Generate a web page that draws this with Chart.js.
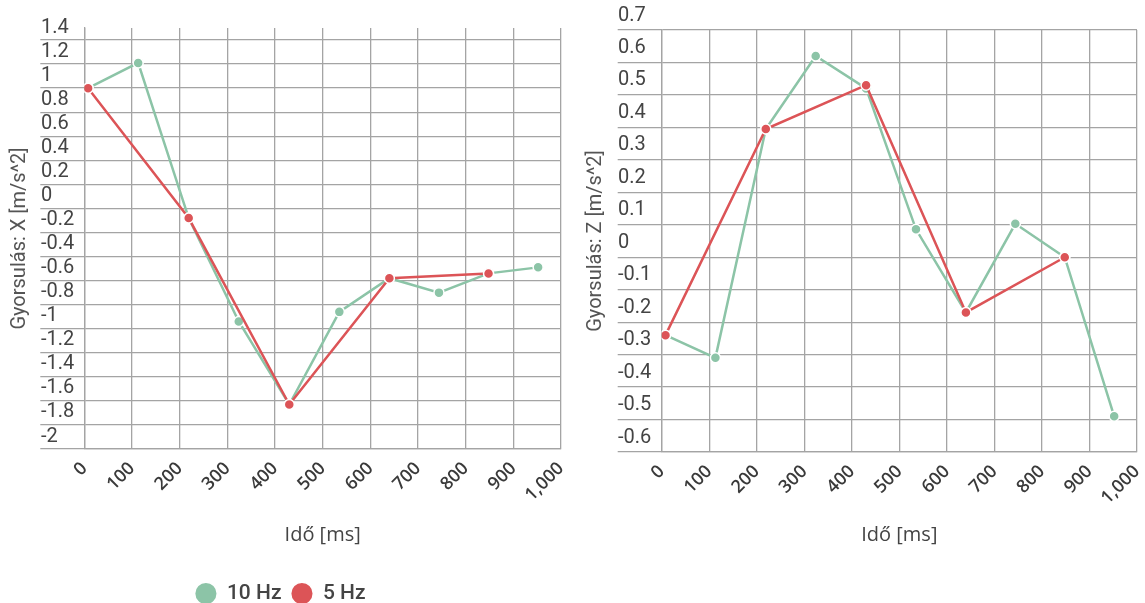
<!DOCTYPE html>
<html>
<head>
<meta charset="utf-8">
<title>Gyorsulás</title>
<script src="https://cdn.jsdelivr.net/npm/chart.js@4.4.1/dist/chart.umd.min.js"></script>
<style>
  html, body { margin: 0; padding: 0; background: #ffffff; }
  body { width: 1145px; height: 603px; position: relative; overflow: hidden; }
  canvas { position: absolute; top: 0; }
  #chartX { left: 0; width: 572px; height: 603px; }
  #chartZ { left: 577px; width: 568px; height: 603px; }
</style>
</head>
<body>
<canvas id="chartX" width="572" height="603"></canvas>
<canvas id="chartZ" width="568" height="603"></canvas>
<script>
// Sample times [ms]
const timeMs10 = [8, 113, 219, 324, 430, 535, 640, 744, 848, 952];
const timeMs5 = [8, 219, 430, 640, 848];

// Acceleration along X [m/s^2]
const accX10 = [1.0, 1.21, -0.08, -0.94, -1.63, -0.86, -0.58, -0.70, -0.54, -0.49];
const accX5 = [1.0, -0.08, -1.63, -0.58, -0.54];

// Acceleration along Z [m/s^2]
const accZ10 = [-0.24, -0.31, 0.395, 0.62, 0.52, 0.086, -0.17, 0.103, 0.0, -0.49];
const accZ5 = [-0.24, 0.395, 0.53, -0.17, 0.0];

const seriesLabels = ['10 Hz', '5 Hz'];
const timeAxisTitle = 'Idő [ms]';
const accXTitle = 'Gyorsulás: X [m/s^2]';
const accZTitle = 'Gyorsulás: Z [m/s^2]';

const GREEN = '#8cc4a7';
const RED = '#dc5457';
const GRID = '#a4a4a4';
const GRID_W = 1.3;

function points(xs, ys) {
  return xs.map((x, i) => ({ x: x, y: ys[i] }));
}

function lineDataset(label, xs, ys, color, order) {
  return {
    label: label,
    data: points(xs, ys),
    borderColor: color,
    backgroundColor: color,
    borderWidth: 2.5,
    pointRadius: 5,
    pointBorderWidth: 1.5,
    pointBorderColor: '#ffffff',
    pointBackgroundColor: color,
    tension: 0,
    order: order
  };
}

function buildChart(id, o) {
  return new Chart(document.getElementById(id), {
    type: 'line',
    data: {
      datasets: [
        lineDataset(seriesLabels[0], timeMs10, o.y10, GREEN, 1),
        lineDataset(seriesLabels[1], timeMs5, o.y5, RED, 0)
      ]
    },
    options: {
      responsive: false,
      animation: false,
      devicePixelRatio: 1,
      events: [],
      layout: { padding: o.padding },
      plugins: {
        tooltip: { enabled: false },
        legend: {
          display: o.legend,
          position: 'bottom',
          align: 'center',
          labels: {
            usePointStyle: true,
            pointStyle: 'circle',
            boxWidth: 21,
            boxHeight: 16,
            padding: 10,
            color: '#444444',
            font: { family: 'Roboto', size: 21, weight: '500' },
            sort: (a, b) => a.datasetIndex - b.datasetIndex
          }
        }
      },
      scales: {
        x: {
          type: 'linear',
          min: 0,
          max: 1000,
          ticks: {
            stepSize: 100,
            autoSkip: false,
            minRotation: 45,
            maxRotation: 45,
            padding: 9,
            color: '#3a3a3a',
            font: { family: 'Open Sans', size: 18, weight: '600' }
          },
          grid: { color: GRID, lineWidth: GRID_W, drawTicks: false },
          border: { color: GRID, width: GRID_W },
          title: {
            display: true,
            text: timeAxisTitle,
            color: '#444444',
            font: { family: 'Open Sans', size: 20 },
            padding: { top: 0, bottom: o.xTitlePad }
          },
          afterFit(scale) {
            scale.height = o.xHeight;
            scale.paddingLeft = 0;
            scale.paddingRight = 0;
          }
        },
        y: {
          type: 'linear',
          min: o.min,
          max: o.max,
          ticks: {
            stepSize: o.step,
            includeBounds: false,
            autoSkip: false,
            mirror: true,
            crossAlign: 'near',
            padding: o.tickPad,
            labelOffset: o.labelOffset,
            color: '#444444',
            font: { family: 'Roboto', size: 20 },
            format: { minimumFractionDigits: 0, maximumFractionDigits: 1 }
          },
          grid: { color: GRID, lineWidth: GRID_W, drawTicks: true, tickLength: 44 },
          border: { color: GRID, width: GRID_W },
          title: {
            display: true,
            text: o.yTitle,
            color: '#555555',
            font: { family: 'Roboto', size: 20 },
            padding: { top: o.yTitlePad, bottom: 0 }
          },
          afterFit(scale) {
            scale.width = o.yWidth;
            scale.paddingTop = 0;
            scale.paddingBottom = 0;
          }
        }
      }
    }
  });
}

buildChart('chartX', {
  y10: accX10, y5: accX5,
  min: -2, max: 1.5, step: 0.2,
  yTitle: accXTitle,
  legend: true,
  padding: { top: 28, left: 0, right: 11, bottom: -11 },
  xHeight: 124, xTitlePad: 26,
  yWidth: 84.3, tickPad: -43.3, labelOffset: -12.5, yTitlePad: 8
});

buildChart('chartZ', {
  y10: accZ10, y5: accZ5,
  min: -0.6, max: 0.7, step: 0.1,
  yTitle: accZTitle,
  legend: false,
  padding: { top: 30, left: 0, right: 8, bottom: 53 },
  xHeight: 98, xTitlePad: 3,
  yWidth: 84.7, tickPad: -43.7, labelOffset: -14.5, yTitlePad: 7
});
</script>
</body>
</html>
